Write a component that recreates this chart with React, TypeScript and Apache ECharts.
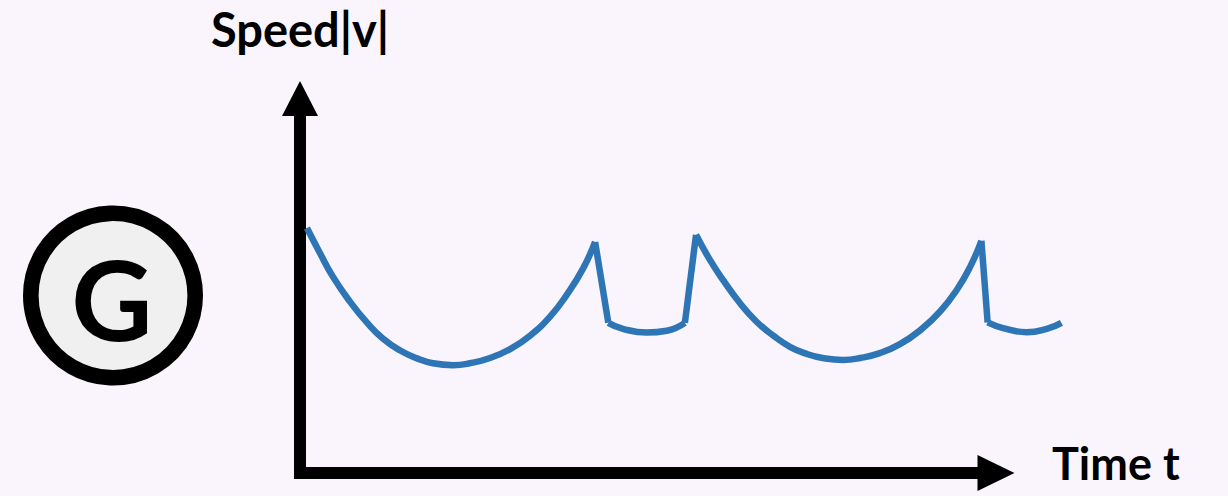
import React, { useEffect, useRef } from "react";
import * as echarts from "echarts";

// ---- Data (time t, speed |v|) ----
const xAxisName = "Time t";
const yAxisName = "Speed|v|";
const badgeLetter = "G";
const timeRange = [0, 10];
const curveTimeRange = [0, 11];
const speedRange = [0, 10];

// first long glide (arc)
const arc1: number[][] = [
  [0.1, 6.54], [0.29, 5.86], [0.47, 5.25], [0.72, 4.57], [0.96, 4.02],
  [1.19, 3.59], [1.44, 3.27], [1.68, 3.06], [1.91, 2.93], [2.2, 2.88],
  [2.44, 2.93], [2.73, 3.07], [3.02, 3.31], [3.3, 3.66], [3.59, 4.17],
  [3.83, 4.75], [4.07, 5.47], [4.24, 6.17],
];
const drop1: number[][] = [[4.24, 6.17], [4.43, 4.01]];
const dip1: number[][] = [[4.43, 4.01], [4.64, 3.85], [4.98, 3.75], [5.27, 3.8], [5.53, 4.01]];
const rise1: number[][] = [[5.53, 4.01], [5.69, 6.36]];
// second long glide (arc)
const arc2: number[][] = [
  [5.69, 6.36], [5.89, 5.69], [6.08, 5.15], [6.32, 4.54], [6.56, 4.04],
  [6.8, 3.67], [7.04, 3.37], [7.28, 3.18], [7.51, 3.07], [7.8, 3.02],
  [8.05, 3.07], [8.33, 3.2], [8.62, 3.44], [8.91, 3.81], [9.2, 4.32],
  [9.44, 4.9], [9.63, 5.51], [9.79, 6.2],
];
const drop2: number[][] = [[9.79, 6.2], [9.88, 4.02]];
const dip2: number[][] = [[9.88, 4.02], [10.1, 3.87], [10.44, 3.76], [10.73, 3.85], [10.94, 4.01]];

const segments = [
  { data: arc1, smooth: 0.5 },
  { data: drop1, smooth: false },
  { data: dip1, smooth: 0.5 },
  { data: rise1, smooth: false },
  { data: arc2, smooth: 0.5 },
  { data: drop2, smooth: false },
  { data: dip2, smooth: 0.5 },
];

const BG = "#faf5fc";
const LINE = "#2e75b6";
const FONT = "Lato";

export default function App() {
  const ref = useRef<HTMLDivElement>(null);

  useEffect(() => {
    document.body.style.margin = "0";
    document.body.style.background = BG;
    const chart = echarts.init(ref.current as HTMLDivElement, null, { renderer: "svg" });

    const axisCommon = {
      type: "value",
      axisTick: { show: false },
      axisLabel: { show: false },
      splitLine: { show: false },
      axisLine: {
        show: true,
        symbol: ["none", "triangle"],
        lineStyle: { color: "#000", width: 12, cap: "square" },
      },
    };
    const nameStyle = {
      fontFamily: FONT,
      fontWeight: "bold",
      fontSize: 46,
      color: "#000",
    };
    const hiddenAxis = {
      type: "value",
      show: false,
      axisLine: { show: false },
      axisTick: { show: false },
      axisLabel: { show: false },
      splitLine: { show: false },
    };

    chart.setOption({
      animation: false,
      backgroundColor: BG,
      grid: [
        { left: 300, right: 232, top: 98.5, bottom: 23, containLabel: false },
        { left: 300, right: 162.4, top: 98.5, bottom: 23, containLabel: false },
      ],
      xAxis: [
        {
          ...axisCommon,
          gridIndex: 0,
          min: timeRange[0],
          max: timeRange[1],
          name: xAxisName,
          nameLocation: "end",
          nameGap: 56,
          nameTextStyle: { ...nameStyle, fontSize: 45, lineHeight: 20, verticalAlign: "bottom" },
          axisLine: { ...axisCommon.axisLine, symbolSize: [36, 37] },
        },
        { ...hiddenAxis, gridIndex: 1, min: curveTimeRange[0], max: curveTimeRange[1] },
      ],
      yAxis: [
        {
          ...axisCommon,
          gridIndex: 0,
          min: speedRange[0],
          max: speedRange[1],
          name: yAxisName,
          nameLocation: "end",
          nameGap: 49.5,
          nameTextStyle: { ...nameStyle, fontSize: 47, lineHeight: 40 },
          axisLine: { ...axisCommon.axisLine, symbolSize: [36, 35] },
        },
        { ...hiddenAxis, gridIndex: 1, min: speedRange[0], max: speedRange[1] },
      ],
      graphic: [
        {
          type: "circle",
          shape: { cx: 113, cy: 295.5, r: 82.2 },
          style: { fill: "#f0f0f0", stroke: "#000", lineWidth: 15.6 },
        },
        {
          type: "text",
          style: {
            text: badgeLetter,
            x: 112,
            y: 297,
            fontSize: 112,
            fontWeight: "bold",
            fontFamily: FONT,
            fill: "#000",
            textAlign: "center",
            textVerticalAlign: "middle",
          },
        },
      ],
      series: segments.map((s) => ({
        type: "line",
        xAxisIndex: 1,
        yAxisIndex: 1,
        data: s.data,
        smooth: s.smooth,
        showSymbol: false,
        clip: false,
        silent: true,
        lineStyle: { color: LINE, width: 6.5, cap: "butt" },
      })),
    });

    return () => chart.dispose();
  }, []);

  return <div ref={ref} style={{ width: 1228, height: 496 }} />;
}
